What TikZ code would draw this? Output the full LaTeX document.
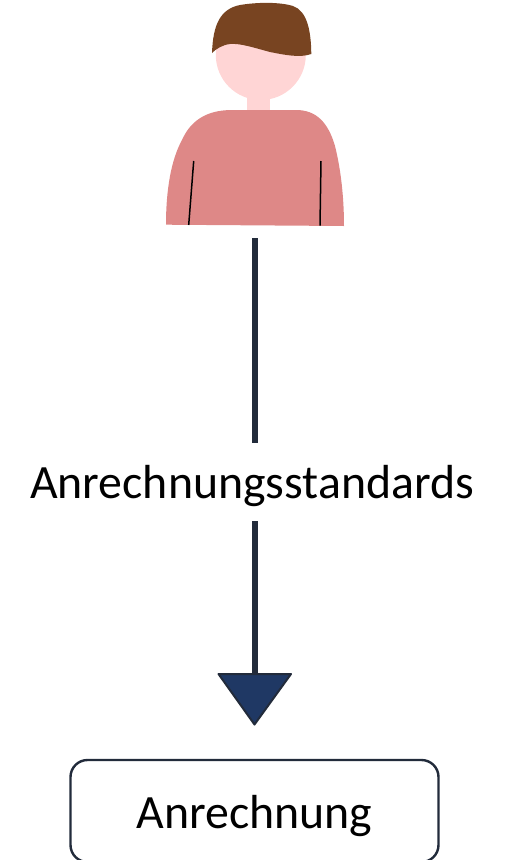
\documentclass[tikz,border=0pt]{standalone}
\usepackage{fontspec}
\setmainfont{Carlito}
\definecolor{hair}{HTML}{784421}
\definecolor{skin}{HTML}{FFD5D5}
\definecolor{shirt}{HTML}{DE8887}
\definecolor{ink}{HTML}{222B3B}
\definecolor{tipblue}{HTML}{1F3864}
\tikzset{
  label/.style={font=\fontsize{47.8}{56}\selectfont, text=black, inner sep=0pt},
  flow/.style={draw=ink, line width=6pt},
  fold/.style={draw=black, line width=1.5pt}
}
\begin{document}
\begin{tikzpicture}[x=1pt,y=-1pt]
  \useasboundingbox (0,0) rectangle (505,860);
  % person
  \fill[skin] (247,90) rectangle (270,115);
  \fill[skin] (260.8,55) circle (45);
  \fill[hair] (212,53) .. controls (213,25) and (220,9) .. (240,5)
    .. controls (258,2) and (280,2) .. (293,6)
    .. controls (307,11) and (311,30) .. (311.3,54)
    .. controls (300,58) and (285,55) .. (270,52)
    .. controls (255,48) and (240,43) .. (230,44)
    .. controls (222,45) and (216,49) .. (212,53) -- cycle;
  \fill[shirt] (166,224.7) .. controls (166,190) and (171,160) .. (182,140)
    .. controls (190,122) and (205,110) .. (232,110)
    -- (296,110) .. controls (316,110) and (328,122) .. (335,146)
    .. controls (341,170) and (344,198) .. (344,226) -- cycle;
  \coordinate (foldA) at (193.7,161);
  \coordinate (foldB) at (188.7,225);
  \coordinate (foldC) at (321,161);
  \coordinate (foldD) at (320,225.7);
  \draw[fold] (foldA) -- (foldB);
  \draw[fold] (foldC) -- (foldD);
  % flow
  \coordinate (person) at (254.5,238);
  \node[label, text height=55pt, text depth=23pt] (standards) at (252,482) {Anrechnungsstandards};
  \coordinate (tipleft) at (218.5,674);
  \coordinate (tipright) at (291,674);
  \coordinate (tiptop) at (254.5,674);
  \coordinate (tipend) at (254.5,724.5);
  \draw[flow] (person) -- (person |- standards.north);
  \draw[flow] (person |- standards.south) -- (tiptop);
  \draw[fill=tipblue, draw=ink, line width=2pt, line join=round] (tipleft) -- (tipright) -- (tipend) -- cycle;
  % box
  \node[draw=ink, line width=2.4pt, rounded corners=17pt, minimum width=368pt, minimum height=102pt] (credit) at (254.5,811) {};
  \node[label, anchor=base] (creditlabel) at (254.5,828) {Anrechnung};
\end{tikzpicture}
\end{document}
